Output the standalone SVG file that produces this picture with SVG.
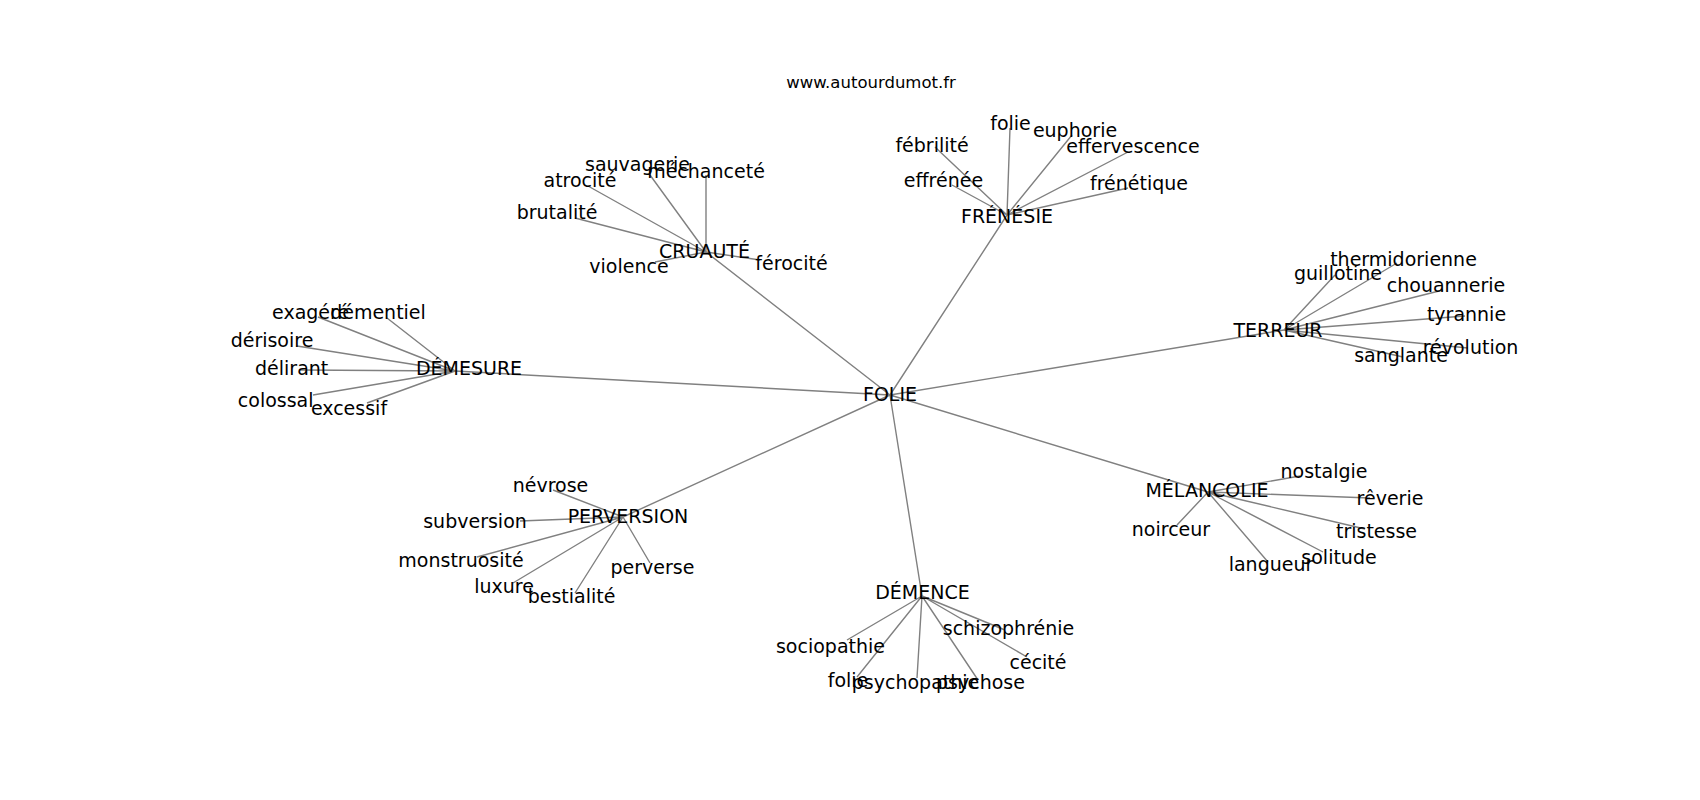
<svg xmlns="http://www.w3.org/2000/svg" width="1700" height="800" viewBox="0 0 1700 800">
<style>
.e{stroke:#808080;stroke-width:1.4;fill:none}
text{font-family:"DejaVu Sans",sans-serif;font-size:19px;fill:#000;text-anchor:middle}
.t{font-size:16.5px}
</style>
<rect width="1700" height="800" fill="#fff"/>
<text class="t" x="871" y="88">www.autourdumot.fr</text>
<g id="connectors">
<path class="e" d="M890,395L706,252M890,395L1007,215M890,395L1284,330M890,395L1208,492M890,395L922,596M890,395L455,371M890,395L623,517"/>
<path class="e" d="M706,252L650,175M706,252L706,175M706,252L588,186M706,252L575,218M706,252L655,262M706,252L760,260"/>
<path class="e" d="M1007,215L1010,128M1007,215L1072,135M1007,215L1128,152M1007,215L935,147M1007,215L952,185M1007,215L1128,188"/>
<path class="e" d="M1284,330L1335,275M1284,330L1397,263M1284,330L1443,290M1284,330L1465,316M1284,330L1468,348M1284,330L1403,357"/>
<path class="e" d="M1208,492L1300,476M1208,492L1370,498M1208,492L1365,529M1208,492L1323,552M1208,492L1268,562M1208,492L1177,525"/>
<path class="e" d="M922,596L1005,630M922,596L847,640M922,596L857,677M922,596L917,678M922,596L978,680M922,596L1027,657"/>
<path class="e" d="M455,371L318,317M455,371L387,318M455,371L297,346M455,371L300,370M455,371L313,395M455,371L367,403"/>
<path class="e" d="M623,517L553,490M623,517L520,521M623,517L477,557M623,517L513,583M623,517L575,593M623,517L650,563"/>
</g>
<g id="n-folie"><text x="890" y="401">FOLIE</text></g>
<g id="n-cruaute"><text x="704.5" y="258">CRUAUTÉ</text></g>
<g id="n-sauvagerie"><text x="637.5" y="171">sauvagerie</text></g>
<g id="n-mechancete"><text x="706" y="178">méchanceté</text></g>
<g id="n-atrocite"><text x="580" y="187">atrocité</text></g>
<g id="n-brutalite"><text x="557" y="219">brutalité</text></g>
<g id="n-violence"><text x="629" y="273">violence</text></g>
<g id="n-ferocite"><text x="791.5" y="270">férocité</text></g>
<g id="n-frenesie"><text x="1007" y="223">FRÉNÉSIE</text></g>
<g id="n-folie2"><text x="1010.5" y="130">folie</text></g>
<g id="n-euphorie"><text x="1075" y="137">euphorie</text></g>
<g id="n-effervescence"><text x="1133" y="153">effervescence</text></g>
<g id="n-febrilite"><text x="932" y="152">fébrilité</text></g>
<g id="n-effrenee"><text x="943.5" y="187">effrénée</text></g>
<g id="n-frenetique"><text x="1139" y="190">frénétique</text></g>
<g id="n-terreur"><text x="1278" y="337">TERREUR</text></g>
<g id="n-thermidorienne"><text x="1403.5" y="266">thermidorienne</text></g>
<g id="n-guillotine"><text x="1338" y="280">guillotine</text></g>
<g id="n-chouannerie"><text x="1446" y="292">chouannerie</text></g>
<g id="n-tyrannie"><text x="1466.5" y="321">tyrannie</text></g>
<g id="n-revolution"><text x="1470.5" y="354">révolution</text></g>
<g id="n-sanglante"><text x="1401" y="362">sanglante</text></g>
<g id="n-melancolie"><text x="1207" y="497">MÉLANCOLIE</text></g>
<g id="n-nostalgie"><text x="1324" y="478">nostalgie</text></g>
<g id="n-reverie"><text x="1390" y="505">rêverie</text></g>
<g id="n-tristesse"><text x="1376.5" y="538">tristesse</text></g>
<g id="n-solitude"><text x="1339" y="564">solitude</text></g>
<g id="n-langueur"><text x="1271" y="571">langueur</text></g>
<g id="n-noirceur"><text x="1171" y="536">noirceur</text></g>
<g id="n-demence"><text x="922.5" y="599">DÉMENCE</text></g>
<g id="n-schizophrenie"><text x="1008.5" y="635">schizophrénie</text></g>
<g id="n-sociopathie"><text x="830.5" y="653">sociopathie</text></g>
<g id="n-cecite"><text x="1038" y="669">cécité</text></g>
<g id="n-folie3"><text x="848" y="687">folie</text></g>
<g id="n-psychopathie"><text x="915.5" y="689">psychopathie</text></g>
<g id="n-psychose"><text x="980.5" y="689">psychose</text></g>
<g id="n-demesure"><text x="469" y="375">DÉMESURE</text></g>
<g id="n-exagere"><text x="310.6" y="319">exagéré</text></g>
<g id="n-dementiel"><text x="378" y="319">démentiel</text></g>
<g id="n-derisoire"><text x="272" y="346.7">dérisoire</text></g>
<g id="n-delirant"><text x="291.7" y="375">délirant</text></g>
<g id="n-colossal"><text x="275.7" y="406.7">colossal</text></g>
<g id="n-excessif"><text x="349" y="415">excessif</text></g>
<g id="n-perversion"><text x="628" y="522.7">PERVERSION</text></g>
<g id="n-nevrose"><text x="550.5" y="491.7">névrose</text></g>
<g id="n-subversion"><text x="475" y="528">subversion</text></g>
<g id="n-monstruosite"><text x="461" y="566.7">monstruosité</text></g>
<g id="n-luxure"><text x="504" y="592.7">luxure</text></g>
<g id="n-bestialite"><text x="571.5" y="602.7">bestialité</text></g>
<g id="n-perverse"><text x="652.5" y="574">perverse</text></g>
</svg>
